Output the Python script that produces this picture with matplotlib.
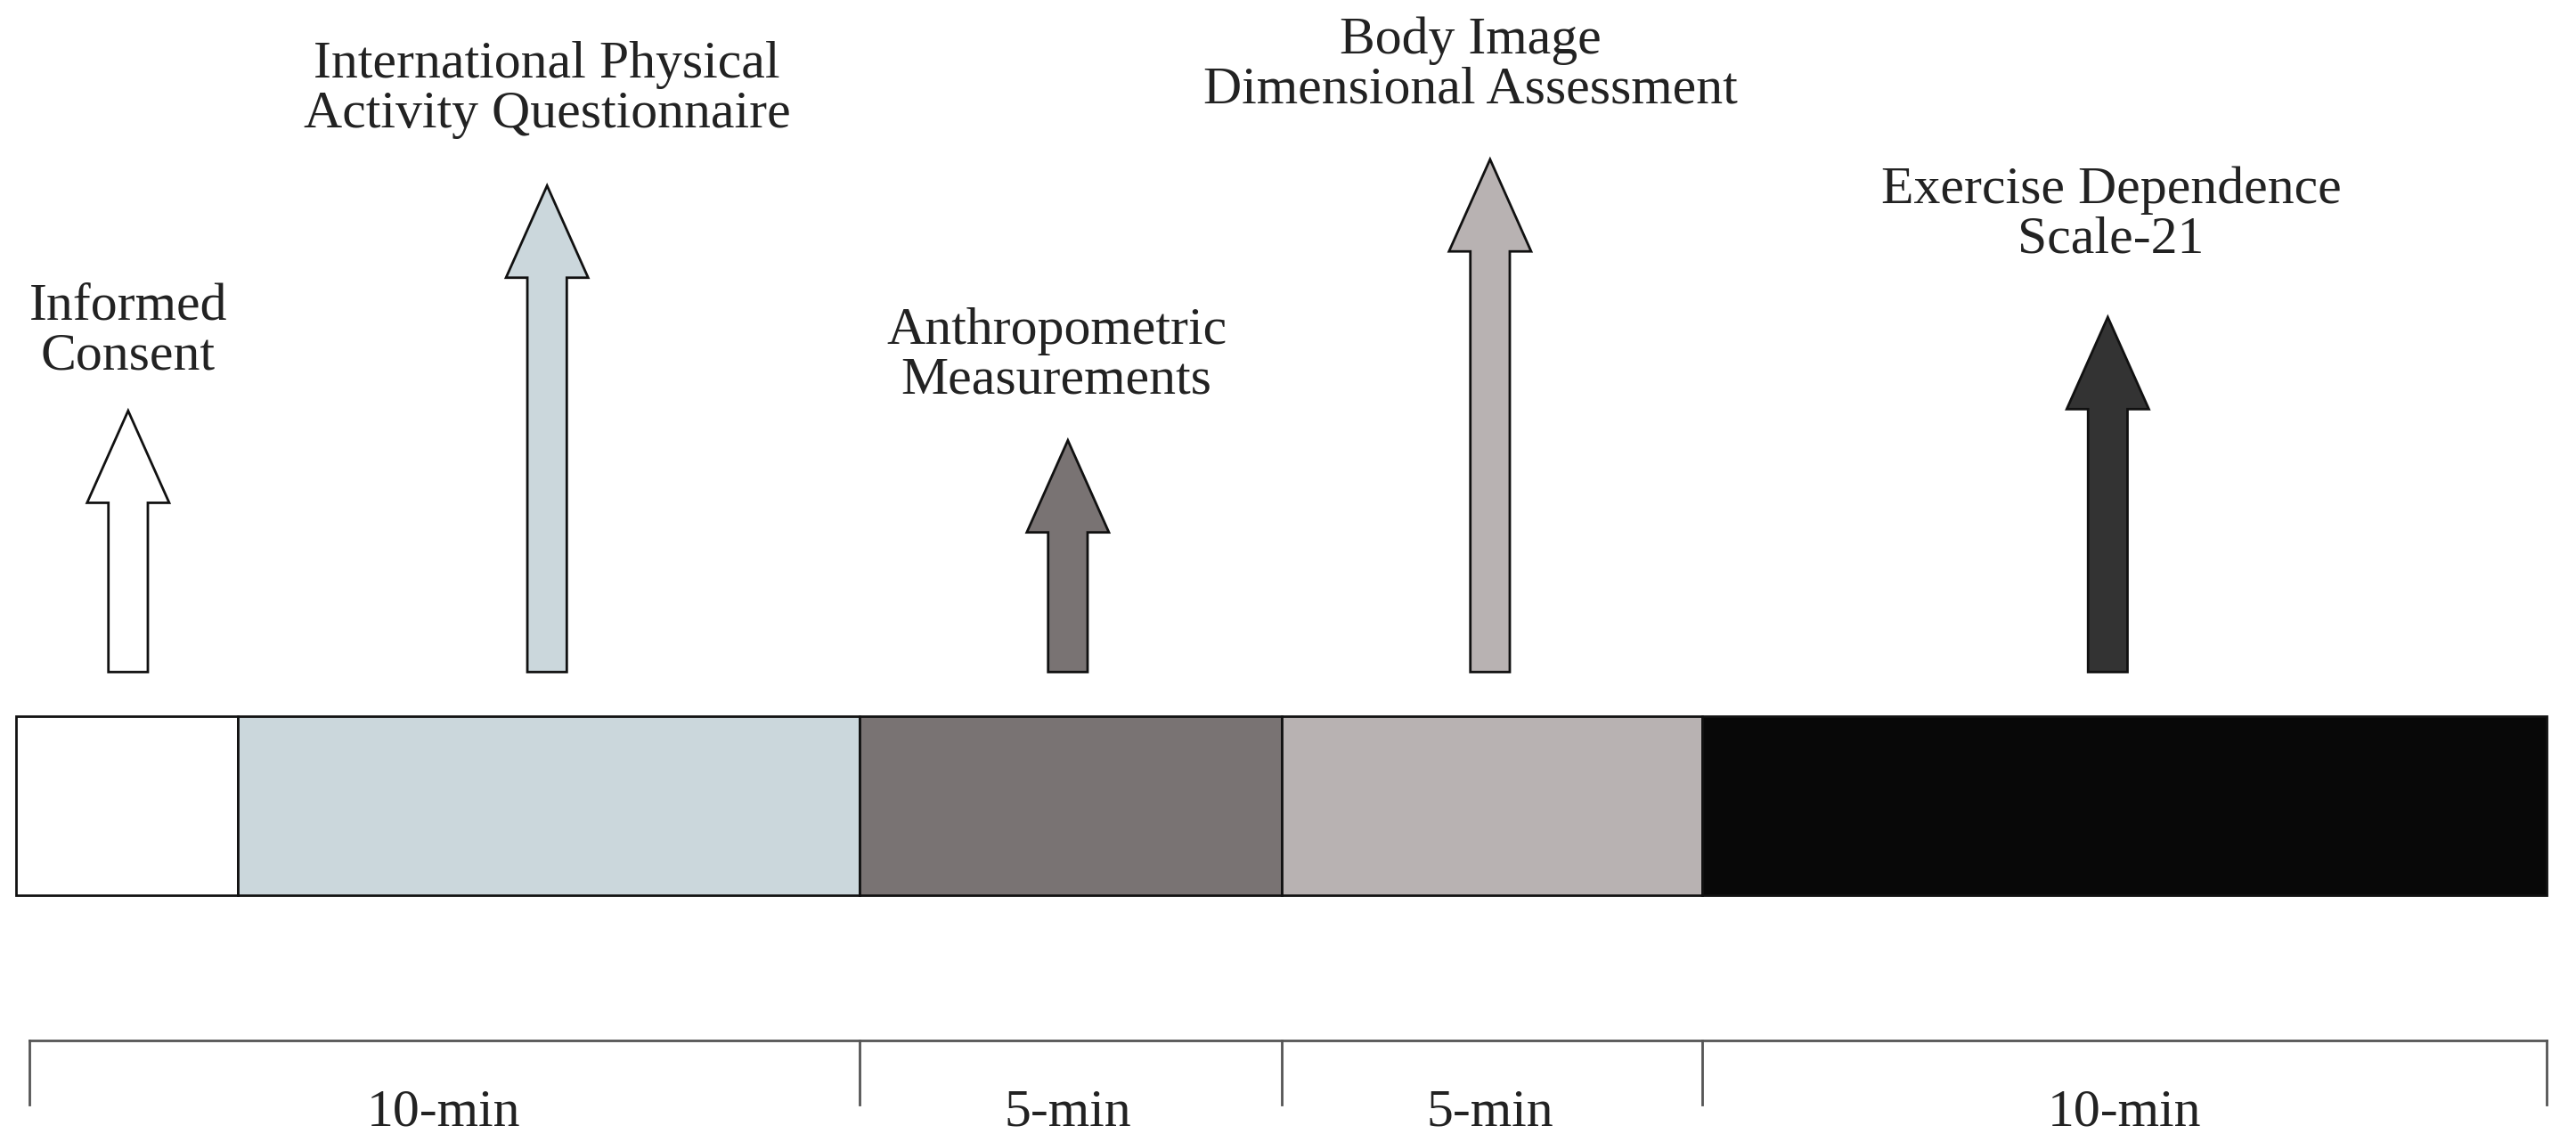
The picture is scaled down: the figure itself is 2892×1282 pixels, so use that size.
import matplotlib
matplotlib.use("Agg")
import matplotlib.pyplot as plt
from matplotlib.patches import Rectangle, FancyArrow

# segments of the protocol bar (x start, x end in layout units) and colours
seg_edges = [10, 145, 523, 780, 1036, 1550]
seg_colours = ["#FFFFFF", "#CBD7DC", "#797373", "#B8B2B2", "#080808"]

# arrows: centre x, top y, colour, label, label top line y
arrow_x = [78, 333, 650, 907, 1283]
arrow_top = [250, 113, 268, 97, 193]
arrow_colours = ["#FFFFFF", "#CBD7DC", "#797373", "#B8B2B2", "#333333"]
labels = ["Informed\nConsent",
          "International Physical\nActivity Questionnaire",
          "Anthropometric\nMeasurements",
          "Body Image\nDimensional Assessment",
          "Exercise Dependence\nScale-21"]
label_x = [78, 333, 643, 895, 1285]
label_y = [182, 35, 197, 20, 111]

# timeline
tick_x = [18, 523, 780, 1036, 1550]
dur_labels = ["10-min", "5-min", "5-min", "10-min"]
dur_x = [270, 650, 907, 1293]

W, H = 1568, 695
fig = plt.figure(figsize=(28.92, 12.82), dpi=100)
ax = fig.add_axes([0, 0, 1, 1])
ax.set_xlim(0, W)
ax.set_ylim(H, 0)
ax.axis("off")

font = dict(family="Liberation Serif", fontsize=43, color="#222222")

for x0, x1, c in zip(seg_edges[:-1], seg_edges[1:], seg_colours):
    ax.add_patch(Rectangle((x0, 436), x1 - x0, 109, facecolor=c,
                           edgecolor="#111111", linewidth=2))

for x, top, c in zip(arrow_x, arrow_top, arrow_colours):
    ax.add_patch(FancyArrow(x, 409, 0, top - 409, width=24, head_width=50,
                            head_length=56, length_includes_head=True,
                            facecolor=c, edgecolor="#111111", linewidth=2))

for t, x, y in zip(labels, label_x, label_y):
    ax.text(x, y - 10, t, ha="center", va="top", linespacing=1.05, **font)

ax.plot([18, 1550], [633, 633], color="#555555", linewidth=2)
for x in tick_x:
    ax.plot([x, x], [633, 672], color="#555555", linewidth=2)
for t, x in zip(dur_labels, dur_x):
    ax.text(x, 692, t, ha="center", va="bottom", **font)

fig.savefig("out.png", dpi=100)
